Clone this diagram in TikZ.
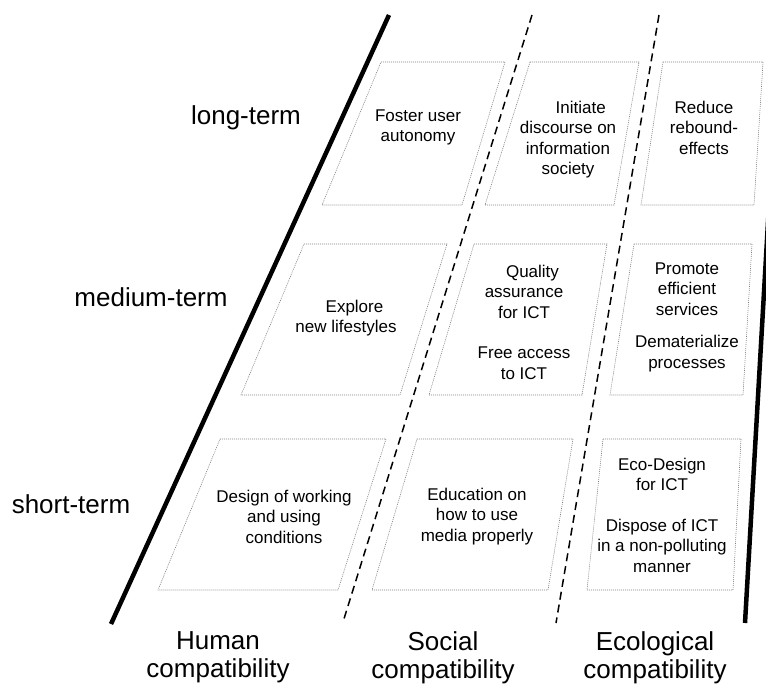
\documentclass[tikz,border=0pt]{standalone}
\usepackage{fontspec}
\setmainfont{Liberation Sans}
\tikzset{
  cell/.style={draw=gray, line width=0.6pt, dash pattern=on 1pt off 1pt},
  celltext/.style={anchor=north, inner sep=0pt, align=center,
    font=\fontsize{17}{20.5}\selectfont},
  termlabel/.style={anchor=base, inner sep=0pt, font=\fontsize{26}{28}\selectfont},
  dimlabel/.style={anchor=north, inner sep=0pt, align=center,
    font=\fontsize{26}{28}\selectfont},
  border/.style={line width=4.5pt},
  divider/.style={line width=1.5pt, dash pattern=on 8pt off 5pt},
}
\begin{document}
\begin{tikzpicture}[x=1pt, y=-1pt]
    \useasboundingbox (0,0) rectangle (766,684);

    % outer borders and dividers
    \coordinate (lt) at (389,15);
    \coordinate (lb) at (111,624);
    \coordinate (d1t) at (532,15);
    \coordinate (d1b) at (343,622);
    \coordinate (d2t) at (659,15);
    \coordinate (d2b) at (556,623);
    \coordinate (rt) at (769,205);
    \coordinate (rb) at (745,623);
    \draw [border] (lt) -- (lb);
    \draw [border] (rt) -- (rb);
    \draw [divider] (d1t) -- (d1b);
    \draw [divider] (d2t) -- (d2b);

    % cells: long-term
    \draw [cell] (381,62) -- (505,62) -- (462,205) -- (322,205) -- cycle;
    \draw [cell] (530,62) -- (639,62) -- (614,205) -- (485,205) -- cycle;
    \draw [cell] (663,62) -- (763,62) -- (754,205) -- (641,205) -- cycle;
    % cells: medium-term
    \draw [cell] (304,244) -- (447,244) -- (400,395) -- (241,395) -- cycle;
    \draw [cell] (474,244) -- (607,244) -- (582,395) -- (429,395) -- cycle;
    \draw [cell] (634,244) -- (752,244) -- (743,395) -- (610,395) -- cycle;
    % cells: short-term
    \draw [cell] (220,439) -- (386,439) -- (338,590) -- (158,590) -- cycle;
    \draw [cell] (417,439) -- (573,439) -- (548,590) -- (372,590) -- cycle;
    \draw [cell] (603,439) -- (741,439) -- (733,590) -- (587,590) -- cycle;

    % cell texts
    \node [celltext] (autonomy) at (418,109.5) {Foster user\\autonomy};
    \node [celltext] (discourse) at (568,100.5) {\hspace*{1.5em}Initiate\\discourse on\\information\\society};
    \node [celltext] (rebound) at (704,100.5) {Reduce\\rebound-\\effects};

    \node [celltext] (lifestyles) at (346,299.5) {\hspace*{1em}Explore\\new lifestyles};
    \node [celltext] (quality) at (524,264.5) {\hspace*{1em}Quality\\assurance\\for ICT\\[20pt]Free access\\to ICT};
    \node [celltext] (efficient) at (687,262.5) {Promote\\efficient\\services\\[12pt]Dematerialize\\processes};

    \node [celltext] (working) at (284,489.5) {Design of working\\and using\\conditions};
    \node [celltext] (education) at (477,487.5) {Education on\\how to use\\media properly};
    \node [celltext] (ecodesign) at (662,457.5) {Eco-Design\\for ICT\\[20pt]Dispose of ICT\\in a non-polluting\\manner};

    % time horizons
    \node [termlabel] (long) at (246,125) {long-term};
    \node [termlabel] (medium) at (151,307) {medium-term};
    \node [termlabel] (short) at (71,513) {short-term};

    % compatibility dimensions
    \node [dimlabel] (human) at (218,631) {Human\\compatibility};
    \node [dimlabel] (social) at (443,631) {Social\\compatibility};
    \node [dimlabel] (ecological) at (655,631) {Ecological\\compatibility};
\end{tikzpicture}
\end{document}
